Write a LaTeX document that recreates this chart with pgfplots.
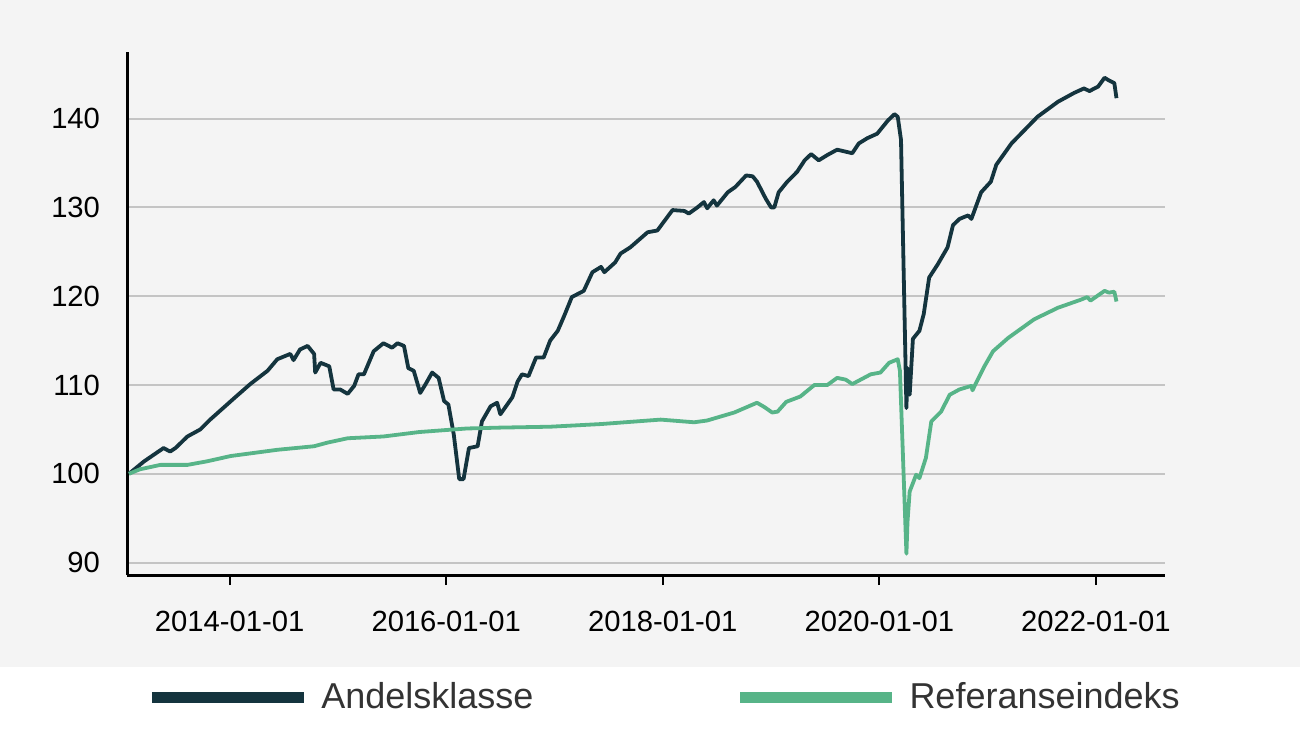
\documentclass[border=0pt]{standalone}
\usepackage{pgfplots}
\pgfplotsset{compat=1.18}
\usepackage{fontspec}
\setmainfont{Liberation Sans}
\definecolor{darkline}{HTML}{14343E}
\definecolor{greenline}{HTML}{57B488}
\definecolor{bggray}{HTML}{F4F4F4}
\definecolor{gridgray}{HTML}{C4C4C4}
\definecolor{legtext}{HTML}{333333}
\begin{document}
\begin{tikzpicture}
\useasboundingbox (0pt,0pt) rectangle (650pt,367pt);
\fill[white] (0pt,0pt) rectangle (650pt,367pt);
\fill[bggray] (0pt,33.5pt) rectangle (650pt,367pt);
\begin{axis}[
  at={(63.5pt,79.5pt)}, anchor=south west,
  scale only axis, width=519pt, height=261.5pt,
  xmin=2013.052, xmax=2022.638, ymin=88.6, ymax=147.5,
  axis x line*=bottom, axis y line*=left,
  axis line style={line width=1.5pt, black, -},
  xtick={2014,2016,2018,2020,2022},
  xticklabels={2014-01-01,2016-01-01,2018-01-01,2020-01-01,2022-01-01},
  ytick={90,100,110,120,130,140},
  ymajorgrids, grid style={line width=1pt, gridgray},
  tick align=outside, major tick length=5pt,
  xtick style={black, line width=1pt},
  ytick style={draw=none},
  ticklabel style={font=\fontsize{14.6}{16}\selectfont, text=black},
  xticklabel style={yshift=-9.5pt},
  yticklabel style={xshift=-5pt},
  /pgf/number format/assume math mode=true,
  legend columns=2,
  legend style={at={(axis description cs:0.0183,-0.2333)}, anchor=west,
    draw=none, fill=none, inner xsep=0pt, inner ysep=0pt,
    font=\fontsize{18}{20}\selectfont, text=legtext,
    /tikz/every odd column/.append style={column sep=4pt},
    /tikz/every even column/.append style={column sep=98.5pt}},
  legend image code/.code={\draw[#1, line width=5.5pt, line cap=butt] (0pt,0pt) -- (76pt,0pt);},
]
\addplot[darkline, line width=1.9pt, line join=round] coordinates {
(2013.07,100.0) (2013.21,101.4) (2013.39,102.9) (2013.45,102.5) (2013.50,102.9)
(2013.61,104.2) (2013.73,105.0) (2013.82,106.1) (2014.05,108.6) (2014.19,110.1)
(2014.35,111.6) (2014.44,112.9) (2014.56,113.5) (2014.59,112.8) (2014.65,114.0)
(2014.72,114.4) (2014.78,113.5) (2014.79,111.4) (2014.84,112.5) (2014.92,112.1)
(2014.96,109.5) (2015.02,109.5) (2015.09,109.0) (2015.15,109.9) (2015.19,111.2)
(2015.24,111.2) (2015.33,113.8) (2015.42,114.7) (2015.50,114.2) (2015.55,114.7)
(2015.61,114.4) (2015.65,111.9) (2015.70,111.6) (2015.76,109.1) (2015.81,110.1)
(2015.87,111.4) (2015.93,110.8) (2015.98,108.2) (2016.02,107.8) (2016.07,104.4)
(2016.12,99.4) (2016.16,99.4) (2016.21,102.9) (2016.29,103.1) (2016.33,105.9)
(2016.41,107.6) (2016.47,108.0) (2016.50,106.7) (2016.61,108.6) (2016.66,110.4)
(2016.70,111.2) (2016.76,111.0) (2016.83,113.1) (2016.90,113.1) (2016.96,115.0)
(2017.03,116.1) (2017.09,117.8) (2017.16,119.9) (2017.27,120.6) (2017.35,122.7)
(2017.43,123.3) (2017.46,122.7) (2017.56,123.8) (2017.61,124.8) (2017.70,125.5)
(2017.86,127.2) (2017.95,127.4) (2018.09,129.7) (2018.20,129.6) (2018.24,129.3)
(2018.32,130.0) (2018.38,130.6) (2018.41,129.9) (2018.47,130.8) (2018.50,130.2)
(2018.60,131.7) (2018.67,132.3) (2018.77,133.6) (2018.83,133.5) (2018.87,132.9)
(2018.95,131.0) (2019.00,130.0) (2019.03,130.0) (2019.07,131.7) (2019.15,132.9)
(2019.24,134.0) (2019.31,135.3) (2019.37,136.0) (2019.44,135.3) (2019.52,135.9)
(2019.61,136.5) (2019.75,136.1) (2019.81,137.2) (2019.89,137.8) (2019.98,138.3)
(2020.08,139.8) (2020.14,140.5) (2020.17,140.2) (2020.20,137.6) (2020.25,107.4)
(2020.26,111.9) (2020.28,108.9) (2020.31,115.2) (2020.37,116.1) (2020.41,118.0)
(2020.46,122.1) (2020.54,123.6) (2020.63,125.5) (2020.68,128.0) (2020.74,128.7)
(2020.82,129.1) (2020.85,128.7) (2020.94,131.7) (2021.03,132.9) (2021.08,134.8)
(2021.22,137.2) (2021.46,140.2) (2021.65,141.9) (2021.80,142.9) (2021.89,143.4)
(2021.94,143.1) (2022.02,143.6) (2022.08,144.6) (2022.12,144.3) (2022.17,144.0)
(2022.19,142.3)
};
\addlegendentry{Andelsklasse}
\addplot[greenline, line width=1.9pt, line join=round] coordinates {
(2013.07,100.0) (2013.17,100.5) (2013.36,101.0) (2013.61,101.0) (2013.79,101.4)
(2014.01,102.0) (2014.44,102.7) (2014.78,103.1) (2014.90,103.5) (2015.09,104.0)
(2015.42,104.2) (2015.75,104.7) (2016.19,105.1) (2016.50,105.2) (2016.96,105.3)
(2017.43,105.6) (2017.98,106.1) (2018.29,105.8) (2018.41,106.0) (2018.66,106.9)
(2018.87,108.0) (2018.94,107.5) (2019.01,106.9) (2019.06,107.0) (2019.14,108.1)
(2019.27,108.7) (2019.40,110.0) (2019.52,110.0) (2019.61,110.8) (2019.69,110.6)
(2019.75,110.1) (2019.92,111.2) (2020.01,111.4) (2020.09,112.5) (2020.17,112.9)
(2020.19,111.6) (2020.25,91.0) (2020.26,94.6) (2020.28,98.0) (2020.34,99.9)
(2020.37,99.5) (2020.43,101.8) (2020.48,105.9) (2020.57,107.0) (2020.65,108.9)
(2020.74,109.5) (2020.85,109.9) (2020.86,109.4) (2020.97,112.1) (2021.05,113.8)
(2021.19,115.3) (2021.43,117.4) (2021.65,118.7) (2021.86,119.6) (2021.92,119.9)
(2021.95,119.5) (2022.08,120.6) (2022.12,120.4) (2022.17,120.5) (2022.19,119.4)
};
\addlegendentry{Referanseindeks}
\end{axis}
\end{tikzpicture}
\end{document}
